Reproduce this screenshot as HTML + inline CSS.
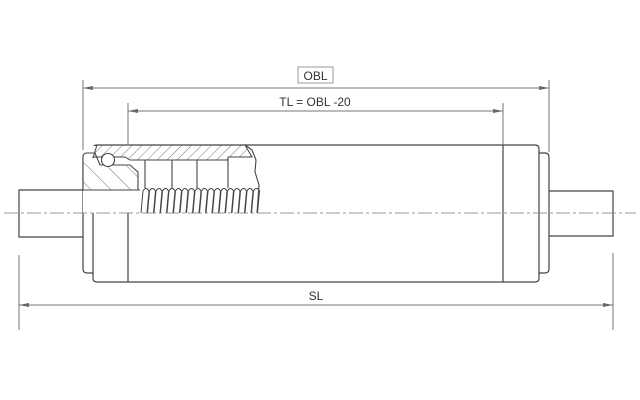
<!DOCTYPE html>
<html><head><style>html,body{margin:0;padding:0;background:#fff}svg{display:block}</style></head>
<body>
<svg width="640" height="400" viewBox="0 0 640 400" xmlns="http://www.w3.org/2000/svg" font-family="Liberation Sans, sans-serif">
<defs>
<pattern id="h" width="7" height="7" patternUnits="userSpaceOnUse" patternTransform="rotate(45)">
<line x1="0" y1="0" x2="0" y2="7" stroke="#666" stroke-width="0.9"/></pattern>
<pattern id="h2" width="14" height="14" patternUnits="userSpaceOnUse" patternTransform="rotate(-45)">
<line x1="0" y1="0" x2="0" y2="14" stroke="#666" stroke-width="0.9"/></pattern>
</defs>
<g fill="none" stroke="#444" stroke-width="1.2">
<path d="M83 190 H19 V237 H83"/>
<path d="M93 153 H87 Q83 153 83 157 V269 Q83 273 87 273 H93"/>
<path d="M97 145 H535 Q539 145 539 149 V278 Q539 282 535 282 H97 Q93 282 93 278 V149 Q93 145 97 145 Z" fill="#fff"/>
<line x1="128" y1="190" x2="128" y2="282"/>
<line x1="503" y1="145" x2="503" y2="282"/>
<path d="M539 153 H545 Q549 153 549 157 V269 Q549 273 545 273 H539"/>
<path d="M549 191 H613 V236 H549"/>
</g>
<!-- section cutaway -->
<g stroke="#444" stroke-width="1.1">
<rect x="83" y="146" width="176" height="67" fill="#fff" stroke="none"/>
<path d="M245 145 L252 150 L256 160 L255 172 L259 185 L257 213" fill="none"/>
<path d="M93 158 L97 145 H245 L252 157 H228 V160 H130 L125 157 H93 Z" fill="url(#h)" stroke-width="1"/>
<path d="M83 190 V157 Q83 153 87 153 H95 L100 165 L130 165 L138 172 V190 Z" fill="url(#h2)"/>
<circle cx="108" cy="160" r="6.5" fill="#fff"/>
<line x1="83" y1="190" x2="140" y2="190"/>
<line x1="145" y1="160" x2="145" y2="188"/>
<line x1="172" y1="160" x2="172" y2="188"/>
<line x1="197" y1="160" x2="197" y2="188"/>
<line x1="228" y1="160" x2="228" y2="188"/>
<g fill="none" stroke-width="1">
<path d="M141 213 L143 191 Q146 186 149 191 L147 213 M147.5 213 L149.5 191 Q152.5 186 155.5 191 L153.5 213 M154 213 L156 191 Q159 186 162 191 L160 213 M160.5 213 L162.5 191 Q165.5 186 168.5 191 L166.5 213 M167 213 L169 191 Q172 186 175 191 L173 213 M173.5 213 L175.5 191 Q178.5 186 181.5 191 L179.5 213 M180 213 L182 191 Q185 186 188 191 L186 213 M186.5 213 L188.5 191 Q191.5 186 194.5 191 L192.5 213 M193 213 L195 191 Q198 186 201 191 L199 213 M199.5 213 L201.5 191 Q204.5 186 207.5 191 L205.5 213 M206 213 L208 191 Q211 186 214 191 L212 213 M212.5 213 L214.5 191 Q217.5 186 220.5 191 L218.5 213 M219 213 L221 191 Q224 186 227 191 L225 213 M225.5 213 L227.5 191 Q230.5 186 233.5 191 L231.5 213 M232 213 L234 191 Q237 186 240 191 L238 213 M238.5 213 L240.5 191 Q243.5 186 246.5 191 L244.5 213 M245 213 L247 191 Q250 186 253 191 L251 213 M251.5 213 L253.5 191 Q256.5 186 259.5 191 L257.5 213"/>
</g>
</g>
<line x1="4" y1="213" x2="636" y2="213" stroke="#777" stroke-width="0.8" stroke-dasharray="14,3,3,3"/>
<!-- dimensions -->
<g stroke="#777" stroke-width="1" fill="none">
<line x1="83" y1="80" x2="83" y2="150"/>
<line x1="549" y1="80" x2="549" y2="152"/>
<line x1="83" y1="88" x2="549" y2="88"/>
<line x1="128" y1="103" x2="128" y2="145"/>
<line x1="503" y1="103" x2="503" y2="145"/>
<line x1="128" y1="111" x2="503" y2="111"/>
<line x1="19" y1="255" x2="19" y2="330"/>
<line x1="613" y1="253" x2="613" y2="330"/>
<line x1="19" y1="305" x2="613" y2="305"/>
<rect x="298" y="67" width="35" height="16" stroke="#999"/>
</g>
<g fill="#666">
<path d="M83 88 l10 -2 v4z"/><path d="M549 88 l-10 -2 v4z"/>
<path d="M128 111 l10 -2 v4z"/><path d="M503 111 l-10 -2 v4z"/>
<path d="M19 305 l10 -2 v4z"/><path d="M613 305 l-10 -2 v4z"/>
</g>
<g font-size="12" fill="#333" text-anchor="middle">
<text x="315.5" y="80">OBL</text>
<text x="315" y="106">TL = OBL -20</text>
<text x="316" y="300">SL</text>
</g>
</svg>
</body></html>
